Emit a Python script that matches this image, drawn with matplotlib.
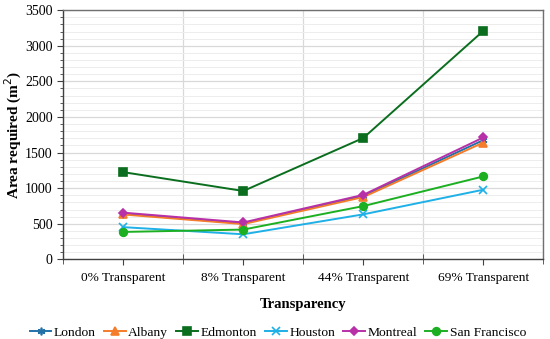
import matplotlib as mpl
import matplotlib.pyplot as plt
import numpy as np
from matplotlib.ticker import MultipleLocator

mpl.rcParams['font.family'] = ['Liberation Serif', 'DejaVu Serif']

categories = ['0% Transparent', '8% Transparent', '44% Transparent', '69% Transparent']
london = [640, 505, 890, 1675]
albany = [630, 495, 875, 1640]
edmonton = [1225, 960, 1705, 3210]
houston = [452, 352, 632, 978]
montreal = [656, 518, 906, 1712]
san_francisco = [385, 418, 748, 1165]

series = [
    ('London', london, '#2471A8', (6, 2, 0)),
    ('Albany', albany, '#F57C2B', '^'),
    ('Edmonton', edmonton, '#0A6E1E', 's'),
    ('Houston', houston, '#1EB0E6', 'x'),
    ('Montreal', montreal, '#B730A8', 'D'),
    ('San Francisco', san_francisco, '#1CAF22', 'o'),
]

fig, ax = plt.subplots(figsize=(5.5, 3.39), dpi=100)
fig.subplots_adjust(left=0.115, right=0.988, top=0.97, bottom=0.235)

x = np.arange(len(categories))
for name, vals, col, mk in series:
    ms = 5.5
    if mk == 'D':
        ms = 3.8
    ax.plot(x, vals, color=col, marker=mk, markersize=ms, linewidth=1.4,
            markeredgewidth=1.2, label=name)

ax.set_xlim(-0.5, 3.5)
ax.set_ylim(0, 3500)
ax.set_xticks(x)
ax.set_xticklabels(categories, fontsize=9.6)
ax.set_xticks(np.arange(-0.5, 4, 1), minor=True)
ax.yaxis.set_major_locator(MultipleLocator(500))
ax.yaxis.set_minor_locator(MultipleLocator(100))
ax.tick_params(axis='y', labelsize=10, direction='out', length=4, color='#404040')
ax.tick_params(axis='y', which='minor', direction='out', length=2.5, color='#404040')
ax.tick_params(axis='x', which='major', direction='out', length=4, color='#404040', pad=5)
ax.tick_params(axis='x', which='minor', direction='inout', length=7, color='#404040')

ax.grid(axis='y', which='major', color='#D9D9D9', linewidth=0.9)
ax.grid(axis='y', which='minor', color='#EDEDED', linewidth=0.7)
ax.grid(axis='x', which='minor', color='#D9D9D9', linewidth=0.9)
ax.set_axisbelow(True)

for s in ax.spines.values():
    s.set_color('#707070')
    s.set_linewidth(1.0)
ax.spines['bottom'].set_color('#404040')
ax.spines['left'].set_color('#404040')

ax.set_xlabel('Transparency', fontsize=10.5, fontweight='bold', labelpad=10)
ax.set_ylabel('Area required (m$^2$)', fontsize=11, fontweight='bold', labelpad=1)

ax.legend(loc='center', bbox_to_anchor=(0.447, -0.293), ncol=6, frameon=False,
          fontsize=9.7, handlelength=1.6, handletextpad=0.2, columnspacing=0.6)

fig.savefig('out.png', dpi=100)
